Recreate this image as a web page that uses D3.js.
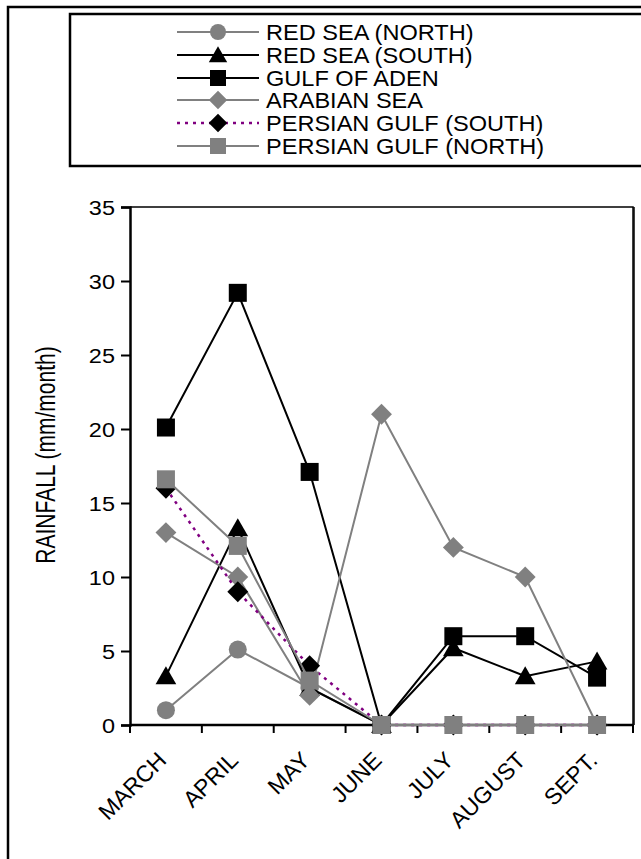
<!DOCTYPE html>
<html>
<head>
<meta charset="utf-8">
<script src="https://cdn.jsdelivr.net/npm/d3@7"></script>
<style>
  html, body { margin: 0; padding: 0; background: #fff; }
  svg { display: block; }
  text { font-family: "Liberation Sans", Arial, sans-serif; fill: #000; }
</style>
</head>
<body>
<svg id="chart" width="641" height="859"></svg>
<script>
const months = ["MARCH", "APRIL", "MAY", "JUNE", "JULY", "AUGUST", "SEPT."];
const yTicks = [0, 5, 10, 15, 20, 25, 30, 35];

const seriesNames = ["RED SEA (NORTH)", "RED SEA (SOUTH)", "GULF OF ADEN", "ARABIAN SEA", "PERSIAN GULF (SOUTH)", "PERSIAN GULF (NORTH)"];
const redSeaNorth = [1.0, 5.1, 2.5, 0, 0, 0, 0];
const redSeaSouth = [3.3, 13.3, 2.5, 0, 5.2, 3.3, 4.3];
const gulfOfAden = [20.1, 29.2, 17.1, 0, 6.0, 6.0, 3.2];
const arabianSea = [13.0, 10.0, 2.0, 21.0, 12.0, 10.0, 0];
const persianGulfSouth = [16.0, 9.0, 4.0, 0, 0, 0, 0];
const persianGulfNorth = [16.6, 12.1, 3.0, 0, 0, 0, 0];

const seriesValues = [redSeaNorth, redSeaSouth, gulfOfAden, arabianSea, persianGulfSouth, persianGulfNorth];
const lineColors = ["#808080", "#000000", "#000000", "#808080", "#800080", "#808080"];
const markerColors = ["#808080", "#000000", "#000000", "#808080", "#000000", "#808080"];
const markerShapes = ["circle", "triangle", "square", "diamond", "diamond", "square"];
const dashes = [null, null, null, null, "3,5", null];

const svg = d3.select("#chart");

// outer frame
svg.append("rect").attr("x", 8).attr("y", 7).attr("width", 700).attr("height", 900)
  .attr("fill", "none").attr("stroke", "#000").attr("stroke-width", 2.5);

const pLeft = 130, pRight = 633, pTop = 207, pBottom = 725;
const x = d3.scaleBand().domain(months).range([pLeft, pRight]);
const y = d3.scaleLinear().domain([0, 35]).range([pBottom, pTop]);

// plot border (top and right)
svg.append("path").attr("d", `M${pLeft},${pTop}H${pRight}V${pBottom}`)
  .attr("fill", "none").attr("stroke", "#000").attr("stroke-width", 1.5);
svg.append("line").attr("x1", pRight + 1).attr("x2", pRight + 1).attr("y1", pTop).attr("y2", pBottom)
  .attr("stroke", "#000").attr("stroke-width", 1.5);

// y axis
const yAxis = d3.axisLeft(y).tickValues(yTicks).tickSize(9).tickPadding(6);
const gy = svg.append("g").attr("transform", `translate(${pLeft},0)`).call(yAxis);
gy.select(".domain").attr("stroke-width", 2.5);
gy.selectAll(".tick line").attr("stroke-width", 2);
gy.selectAll(".tick text")
  .style("font-size", "21px").style("font-family", "Liberation Sans, Arial, sans-serif")
  .attr("x", null)
  .attr("transform", "translate(-15,0) scale(1.12,1)")
  .attr("dy", "0.36em");

// x axis with ticks at category boundaries
const gx = svg.append("g").attr("transform", `translate(0,${pBottom})`);
gx.append("line").attr("x1", pLeft).attr("x2", pRight).attr("stroke", "#000").attr("stroke-width", 2.5);
const bounds = months.map(m => x(m)).concat([x(months[months.length - 1]) + x.bandwidth()]);
gx.selectAll("line.tk").data(bounds).join("line").attr("class", "tk")
  .attr("x1", d => d).attr("x2", d => d).attr("y1", 0).attr("y2", 8)
  .attr("stroke", "#000").attr("stroke-width", 2);
gx.selectAll("text.lbl").data(months).join("text").attr("class", "lbl")
  .attr("transform", d => `translate(${x(d) + x.bandwidth() / 2 - 10},${25}) rotate(-45)`)
  .attr("text-anchor", "end").attr("dy", "0.72em")
  .style("font-size", "23px")
  .text(d => d);

// y label
svg.append("text").attr("transform", `translate(55,455) scale(1.35,1) rotate(-90)`)
  .attr("text-anchor", "middle").style("font-size", "21px").text("RAINFALL (mm/month)");

// marker drawing
function drawMarker(g, shape, color, size) {
  if (shape === "circle") {
    return g.append("circle").attr("r", size / 2).attr("fill", color);
  } else if (shape === "square") {
    return g.append("rect").attr("x", -size / 2).attr("y", -size / 2).attr("width", size).attr("height", size).attr("fill", color);
  } else if (shape === "triangle") {
    const h = size * 1.0, w = size * 1.15;
    return g.append("path").attr("d", `M0,${-h * 0.55}L${w / 2},${h * 0.45}L${-w / 2},${h * 0.45}Z`).attr("fill", color);
  } else {
    const r = size * 0.58;
    return g.append("path").attr("d", `M0,${-r}L${r},0L0,${r}L${-r},0Z`).attr("fill", color);
  }
}

const line = d3.line().x((d, i) => x(months[i]) + x.bandwidth() / 2).y(d => y(d));

seriesValues.forEach((vals, s) => {
  const g = svg.append("g");
  g.append("path").datum(vals).attr("d", line).attr("fill", "none")
    .attr("stroke", lineColors[s]).attr("stroke-width", s === 4 ? 2.5 : 2)
    .attr("stroke-dasharray", dashes[s]);
  vals.forEach((v, i) => {
    const mg = g.append("g").attr("transform", `translate(${x(months[i]) + x.bandwidth() / 2},${y(v)})`);
    drawMarker(mg, markerShapes[s], markerColors[s], 18);
  });
});

// legend
svg.append("rect").attr("x", 70).attr("y", 14).attr("width", 650).attr("height", 152)
  .attr("fill", "none").attr("stroke", "#000").attr("stroke-width", 2.5);
const legY = [32, 55, 78, 100, 123, 146];
seriesNames.forEach((name, s) => {
  const g = svg.append("g").attr("transform", `translate(0,${legY[s]})`);
  g.append("line").attr("x1", 177).attr("x2", 259).attr("y1", 0).attr("y2", 0)
    .attr("stroke", lineColors[s]).attr("stroke-width", s === 4 ? 2.5 : 2)
    .attr("stroke-dasharray", dashes[s]);
  const mg = g.append("g").attr("transform", "translate(218,0)");
  drawMarker(mg, markerShapes[s], markerColors[s], 16);
  const t = g.append("text").attr("x", 266).attr("y", 0).attr("dy", "0.36em")
    .style("font-size", "22px")
    .text(name);
  const w = t.node().getComputedTextLength();
  t.attr("textLength", w * 1.07).attr("lengthAdjust", "spacingAndGlyphs");
});
</script>
</body>
</html>
